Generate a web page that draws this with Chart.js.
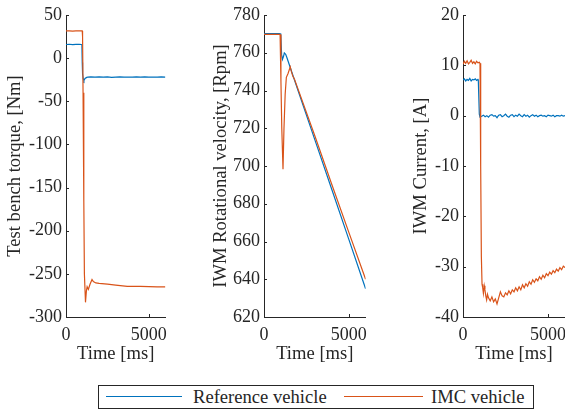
<!DOCTYPE html>
<html>
<head>
<meta charset="utf-8">
<script src="https://cdn.jsdelivr.net/npm/chart.js@4.4.1/dist/chart.umd.min.js"></script>
<style>
  body { margin: 0; background: #fff; }
  #wrap { position: relative; width: 565px; height: 417px; overflow: hidden; font-family: "Liberation Serif", "Times New Roman", serif; color: #262626; }
  canvas { position: absolute; top: 0; }
  #legend { position: absolute; left: 98px; top: 385px; width: 434px; height: 22px; border: 1px solid #262626; background: #fff; }
  #legend .ln { position: absolute; top: 10px; height: 0; border-top: 1.3px solid; }
  #legend .tx { position: absolute; top: 0; font-size: 18.6px; line-height: 22px; white-space: nowrap; }
</style>
</head>
<body>
<div id="wrap">
  <canvas id="c1" width="175" height="372" style="left:0px"></canvas>
  <canvas id="c2" width="177" height="372" style="left:198px"></canvas>
  <canvas id="c3" width="178" height="372" style="left:397px"></canvas>
  <div id="legend">
    <div class="ln" style="left:7px;width:76px;border-color:#0072BD"></div>
    <div class="tx" style="left:94px">Reference vehicle</div>
    <div class="ln" style="left:245px;width:79px;border-color:#D95319"></div>
    <div class="tx" style="left:332px">IMC vehicle</div>
  </div>
</div>
<script>
const blue = '#0072BD';
const orange = '#D95319';
const ink = '#262626';

const xTicks = [0, 5000];

// torque [Nm]
const torqueRefT = [0, 200, 400, 600, 800, 920, 960, 980, 1000, 1040, 1080, 1150, 1250, 1320, 1500, 1750, 2000, 2250, 2500, 2750, 3000, 3250, 3500, 3750, 4000, 4250, 4500, 4750, 5000, 5250, 5500, 5750, 6000];
const torqueRef = [15.8, 16.1, 15.7, 16.0, 15.9, 15.8, 15.5, -5, -18, -24, -26, -23.5, -22.3, -22, -21.8, -22.1, -21.7, -22.0, -21.8, -22.2, -21.9, -21.7, -22.1, -21.9, -22.0, -21.7, -22.1, -21.8, -22.0, -21.9, -22.1, -21.8, -21.9];
const torqueImcT = [0, 200, 400, 600, 800, 980, 1000, 1030, 1075, 1110, 1176, 1230, 1276, 1350, 1450, 1570, 1650, 1800, 2000, 2500, 3000, 3700, 4500, 5000, 5500, 6000];
const torqueImc = [31.5, 31.6, 31.4, 31.6, 31.5, 31.5, 25, -40, -165, -250, -283, -270, -265, -268, -262, -256.5, -259, -260.5, -261, -262, -263, -264.4, -264.6, -264.8, -265.2, -265];

// rotational velocity [Rpm]
const speedRefT = [0, 300, 600, 900, 990, 1040, 1090, 1150, 1200, 1280, 1350, 1500, 2000, 3000, 4000, 5000, 6000];
const speedRef = [770.2, 770.2, 770.1, 770.2, 770, 759, 756.5, 758, 759.9, 759.2, 757.5, 753.5, 740.3, 714, 687.7, 661.4, 635];
const speedImcT = [0, 300, 600, 900, 950, 1000, 1050, 1122, 1180, 1250, 1320, 1420, 1550, 1620, 1700, 1800, 2000, 3000, 4000, 5000, 6000];
const speedImc = [769.7, 769.8, 769.7, 769.8, 769.7, 745, 720, 698.3, 720, 738, 747, 749, 752.5, 750, 747.7, 746, 741, 716, 690.3, 665.1, 640];

// IWM current [A]
const currentRefT = [0, 80, 160, 240, 320, 400, 480, 560, 640, 720, 800, 880, 900, 960, 1000, 1100, 1200, 1300, 1400, 1500, 1600, 1700, 1800, 1900, 2000, 2100, 2200, 2300, 2400, 2500, 2600, 2700, 2800, 2900, 3000, 3100, 3200, 3300, 3400, 3500, 3600, 3700, 3800, 3900, 4000, 4100, 4200, 4300, 4400, 4500, 4600, 4700, 4800, 4900, 5000, 5100, 5200, 5300, 5400, 5500, 5600, 5700, 5800, 5900, 6000];
const currentRef = [7.1, 7.3, 6.9, 7.2, 7.0, 7.4, 6.9, 7.2, 7.1, 7.3, 7.0, 7.2, 7.1, 0.3, -0.3, -0.1, 0.1, -0.2, 0.0, -0.3, 0.1, 0.2, -0.1, 0.0, -0.4, 0.1, 0.2, -0.2, 0.0, 0.3, -0.1, -0.3, 0.1, 0.2, -0.2, 0.1, -0.1, 0.3, 0.0, -0.2, 0.2, -0.1, 0.1, -0.3, 0.0, 0.2, -0.1, 0.1, -0.2, 0.0, 0.1, -0.1, 0.0, -0.2, 0.1, 0.0, -0.1, 0.1, -0.2, 0.0, 0.0, -0.1, 0.1, -0.1, 0.0];
const currentImcT = [0, 80, 160, 240, 320, 400, 480, 560, 640, 720, 800, 880, 960, 1000, 1040, 1080, 1120, 1160, 1200, 1250, 1290, 1340, 1390, 1440, 1500, 1600, 1700, 1800, 1900, 2000, 2100, 2200, 2300, 2400, 2500, 2600, 2700, 2800, 2900, 3000, 3100, 3200, 3300, 3400, 3500, 3600, 3700, 3800, 3900, 4000, 4100, 4200, 4300, 4400, 4500, 4600, 4700, 4800, 4900, 5000, 5100, 5200, 5300, 5400, 5500, 5600, 5700, 5800, 5900, 6000];
const currentImc = [10.2, 10.8, 10.4, 10.9, 10.3, 10.6, 11.0, 10.4, 10.7, 10.3, 10.8, 10.5, 10.6, 10.4, -10, -28, -33.5, -34.2, -35.3, -33.8, -34.6, -35.8, -36.6, -35.5, -36.2, -36.8, -36.0, -37.0, -36.4, -37.4, -36.2, -35.0, -35.8, -36.0, -35.2, -35.6, -34.8, -35.4, -34.6, -35.0, -34.2, -34.8, -34.0, -34.6, -33.6, -34.2, -33.4, -33.9, -33.0, -33.5, -32.6, -33.1, -32.4, -32.8, -32.0, -32.5, -31.7, -32.2, -31.4, -31.8, -31.1, -31.5, -30.8, -31.2, -30.5, -30.9, -30.2, -30.6, -29.9, -30.2];

Chart.defaults.font.family = "'Liberation Serif', 'Times New Roman', serif";
Chart.defaults.font.size = 18;
Chart.defaults.color = ink;

function pts(t, v) {
  return t.map((x, i) => ({ x: x, y: v[i] }));
}

// MATLAB style inward tick marks
const inwardTicks = {
  id: 'inwardTicks',
  afterDraw(chart) {
    const c = chart.ctx;
    const a = chart.chartArea;
    const xs = chart.scales.x, ys = chart.scales.y;
    c.save();
    c.strokeStyle = ink;
    c.lineWidth = 1;
    c.beginPath();
    xs.ticks.forEach(t => {
      const px = Math.round(xs.getPixelForValue(t.value)) + 0.5;
      c.moveTo(px, a.bottom);
      c.lineTo(px, a.bottom - 3);
    });
    ys.ticks.forEach(t => {
      const py = Math.round(ys.getPixelForValue(t.value)) + 0.5;
      c.moveTo(a.left, py);
      c.lineTo(a.left + 3, py);
    });
    c.stroke();
    c.restore();
  }
};

function makeChart(id, refPts, imcPts, yMin, yMax, yStep, yTitle, titlePad, padRight) {
  const titleFont = { family: "'Liberation Serif', serif", size: 18.6 };
  return new Chart(document.getElementById(id), {
    type: 'line',
    data: {
      datasets: [
        { label: 'Reference vehicle', data: refPts, borderColor: blue, borderWidth: 1.2, pointRadius: 0, tension: 0, order: 1 },
        { label: 'IMC vehicle', data: imcPts, borderColor: orange, borderWidth: 1.2, pointRadius: 0, tension: 0, order: 0 }
      ]
    },
    options: {
      responsive: false,
      animation: false,
      devicePixelRatio: 1,
      layout: { padding: { top: 15, left: 0, right: padRight, bottom: 0 } },
      plugins: { legend: { display: false }, tooltip: { enabled: false } },
      scales: {
        x: {
          type: 'linear',
          min: 0,
          max: 6000,
          afterBuildTicks: s => { s.ticks = xTicks.map(v => ({ value: v })); },
          afterFit: s => { s.height = 55; },
          grid: { display: false, drawTicks: false },
          border: { display: true, color: ink, width: 1 },
          ticks: { color: ink, padding: 7, maxRotation: 0, callback: v => String(v) },
          title: { display: true, text: 'Time [ms]', color: ink, font: titleFont, padding: { top: 0, bottom: 6.8 } }
        },
        y: {
          min: yMin,
          max: yMax,
          afterFit: s => { s.width = 66; },
          grid: { display: false, drawTicks: false },
          border: { display: true, color: ink, width: 1 },
          ticks: { color: ink, padding: 4, stepSize: yStep, callback: v => String(v) },
          title: { display: true, text: yTitle, color: ink, font: titleFont, padding: { top: titlePad, bottom: 0 } }
        }
      }
    },
    plugins: [inwardTicks]
  });
}

makeChart('c1', pts(torqueRefT, torqueRef), pts(torqueImcT, torqueImc), -300, 50, 50, 'Test bench torque, [Nm]', 4.3, 7);
makeChart('c2', pts(speedRefT, speedRef), pts(speedImcT, speedImc), 620, 780, 20, 'IWM Rotational velocity, [Rpm]', 12.3, 8);
makeChart('c3', pts(currentRefT, currentRef), pts(currentImcT, currentImc), -40, 20, 10, 'IWM Current, [A]', 13.3, 10);
</script>
</body>
</html>
